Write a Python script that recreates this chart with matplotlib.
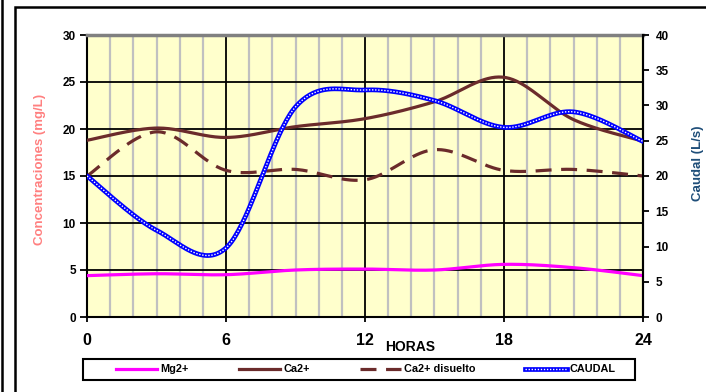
import numpy as np
import matplotlib
matplotlib.use('Agg')
from matplotlib import pyplot as plt
from matplotlib.lines import Line2D
from matplotlib.patches import Rectangle

plt.rcParams['font.family'] = ['Liberation Sans', 'DejaVu Sans']
plt.rcParams['font.weight'] = 'bold'

# hours of sampling
horas = [0, 3, 6, 9, 12, 15, 18, 21, 24]

# concentrations (mg/L)
mg = [4.4, 4.6, 4.5, 5.0, 5.1, 5.0, 5.6, 5.25, 4.4]
ca = [18.8, 20.1, 19.1, 20.25, 21.1, 22.9, 25.5, 21.0, 18.7]
ca_dis = [15.0, 19.7, 15.6, 15.7, 14.6, 17.8, 15.6, 15.7, 15.0]

# flow (L/s)
caudal = [20.0, 12.3, 9.8, 29.8, 32.2, 30.7, 26.9, 29.1, 24.9]

x_ticks = [0, 6, 12, 18, 24]


def smooth(x, y, n=40):
    # excel-like smoothed line (bezier through the points)
    p = np.column_stack([x, y]).astype(float)
    out = []
    for i in range(len(p) - 1):
        p0 = p[i - 1] if i > 0 else p[i]
        p1 = p[i]
        p2 = p[i + 1]
        p3 = p[i + 2] if i + 2 < len(p) else p[i + 1]
        c1 = p1 + (p2 - p0) / 6
        c2 = p2 - (p3 - p1) / 6
        t = np.linspace(0, 1, n)[:, None]
        seg = (1 - t) ** 3 * p1 + 3 * (1 - t) ** 2 * t * c1 + 3 * (1 - t) * t ** 2 * c2 + t ** 3 * p2
        out.append(seg if i == 0 else seg[1:])
    out = np.vstack(out)
    return out[:, 0], out[:, 1]


fig = plt.figure(figsize=(7.06, 3.92), dpi=100)
ax = fig.add_axes([87 / 706, 1 - 317 / 392, (643 - 87) / 706, (317 - 35) / 392])
ax.set_facecolor('#FFFFCC')

ax.set_xlim(0, 24)
ax.set_ylim(0, 30)
ax.set_xticks(x_ticks)
ax.set_xticks(range(0, 25), minor=True)
ax.set_yticks(range(0, 31, 5))

# grid
for h in range(1, 24):
    if h % 6 == 0:
        ax.axvline(h, color='black', lw=1.3, zorder=1)
    else:
        ax.axvline(h, color='#C0C0C0', lw=1.6, zorder=0.5)
for v in range(5, 30, 5):
    ax.axhline(v, color='black', lw=1.3, zorder=1)

c_brown = '#6B2B2B'
xs, ys = smooth(horas, mg)
ax.plot(xs, ys, color='#FF00FF', lw=2.3, zorder=3)
xs, ys = smooth(horas, ca)
ax.plot(xs, ys, color=c_brown, lw=2.3, zorder=3)
xs, ys = smooth(horas, ca_dis)
ax.plot(xs, ys, color=c_brown, lw=2.3, ls=(0, (5, 3)), zorder=3)

ax.tick_params(axis='y', which='major', length=5, width=1.3, pad=3, labelsize=8.5, direction='out')
ax.tick_params(axis='x', which='major', length=3.5, width=1.3, pad=8, labelsize=11.5, direction='out')
ax.tick_params(axis='x', which='minor', length=0)
for side in ['left', 'right', 'bottom']:
    ax.spines[side].set_linewidth(1.5)
ax.spines['top'].set_color('#808080')
ax.spines['top'].set_linewidth(2.5)

ax2 = ax.twinx()
ax2.set_ylim(0, 40)
ax2.set_yticks(range(0, 41, 5))
ax2.tick_params(axis='y', length=4, width=1.3, pad=5, labelsize=8.5, direction='out')
for s in ax2.spines.values():
    s.set_visible(False)
ax2.spines['right'].set_visible(True)
ax2.spines['right'].set_linewidth(1.5)
xs, ys = smooth(horas, caudal)
ax2.plot(xs, ys, color='#0000FF', lw=3.4, zorder=3, solid_capstyle='round')
ax2.plot(xs, ys, color='white', lw=1.0, ls=(0, (1, 1.2)), zorder=4)

fig.text(40 / 706, 1 - 169 / 392, 'Concentraciones (mg/L)', rotation=90, ha='center', va='center',
         color='#FF8080', fontsize=9.5, fontweight='bold')
fig.text(698 / 706, 1 - 163 / 392, 'Caudal (L/s)', rotation=90, ha='center', va='center',
         color='#1F4E79', fontsize=9.5, fontweight='bold')
fig.text(410 / 706, 1 - 347 / 392, 'HORAS', ha='center', va='center', fontsize=10, fontweight='bold')

# legend
h_mg = Line2D([], [], color='#FF00FF', lw=2.3)
h_ca = Line2D([], [], color=c_brown, lw=2.3)
h_dis = Line2D([], [], color=c_brown, lw=2.3, ls=(0, (5, 3)))
h_q = (Line2D([], [], color='#0000FF', lw=3.4), Line2D([], [], color='white', lw=1.0, ls=(0, (1, 1.2))))
leg = fig.legend([h_mg, h_ca, h_dis, h_q], ['Mg2+', 'Ca2+', 'Ca2+ disuelto', 'CAUDAL'],
                 loc='center', bbox_to_anchor=(366 / 706, 1 - 369.5 / 392),
                 ncol=4, fontsize=7.8, frameon=False, handlelength=3.8, handletextpad=0.3,
                 columnspacing=4.6, borderpad=0, borderaxespad=0)
fig.add_artist(Rectangle((83 / 706, 1 - 380 / 392), (635 - 83) / 706, 21 / 392,
                         transform=fig.transFigure, fill=False, lw=1.5, edgecolor='black'))

# outer chart frame
fig.add_artist(Rectangle((15 / 706, -0.1), 2, 1.1 - 7 / 392, transform=fig.transFigure,
                         fill=False, lw=1.8, edgecolor='black'))
fig.add_artist(Line2D([2 / 706, 2 / 706], [0, 1], transform=fig.transFigure, color='black', lw=1.8))

fig.savefig('out.png', dpi=100)
